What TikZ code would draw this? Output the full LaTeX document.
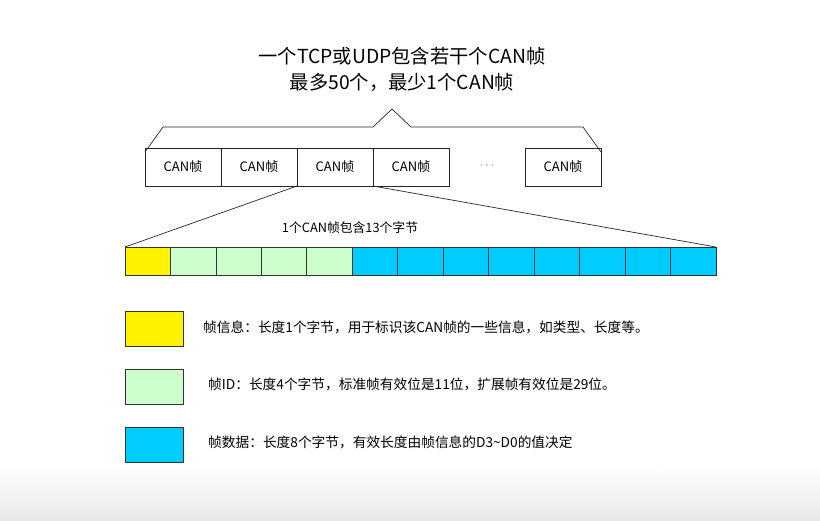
\documentclass[tikz,border=0pt]{standalone}
\usepackage{fontspec}
\setmainfont{Noto Sans CJK SC}
\begin{document}
\begin{tikzpicture}[x=1pt,y=-1pt,
  framebox/.style={draw=black!85,line width=0.8pt,minimum width=76pt,minimum height=38pt,anchor=north west,inner sep=0pt,outer sep=0pt,font=\fontsize{13}{15}\selectfont},
  cell/.style={draw=black!80,line width=0.7pt,minimum height=28pt,minimum width=45.46pt,anchor=north west,inner sep=0pt,outer sep=0pt},
  legbox/.style={draw=black!80,line width=0.7pt,minimum width=58pt,minimum height=35pt,anchor=north west,inner sep=0pt,outer sep=0pt},
  legtext/.style={anchor=west,inner sep=0pt,font=\fontsize{13.7}{15}\selectfont},
  thinline/.style={draw=black!85,line width=0.7pt}
]
\useasboundingbox (0,0) rectangle (820,520);
\shade[top color=white,bottom color=black!9] (0,462) rectangle (820,520);
\fill[white] (195,300) rectangle (660,470);
% title
\node[align=center,font=\fontsize{19.3}{26}\selectfont,inner sep=0pt] (title) at (402,69) {一个TCP或UDP包含若干个CAN帧\\最多50个，最少1个CAN帧};
% frame boxes
\node[framebox] (f1) at (145,148) {CAN帧};
\node[framebox] (f2) at (221,148) {CAN帧};
\node[framebox] (f3) at (297,148) {CAN帧};
\node[framebox] (f4) at (373,148) {CAN帧};
\node[inner sep=0pt,font=\fontsize{13}{15}\selectfont,text=black!60] (dots) at (487,166) {$\cdots$};
\node[framebox] (f5) at (525,148) {CAN帧};
% brace
\coordinate (bl) at (f1.north west);
\coordinate (br) at (f5.north east);
\draw[thinline] ([yshift=-4pt]bl) -- (163,127) -- (373,127) -- (392,109) -- (411,127) -- (583,127) -- ([yshift=-4pt]br);
% byte cells
\node[cell,fill=yellow] (c1) at (125,247) {};
\foreach \i in {2,...,13}{
  \pgfmathtruncatemacro{\p}{\i-1}
  \ifnum\i<6
    \node[cell,fill={rgb,255:red,204;green,255;blue,204}] (c\i) at (c\p.north east) {};
  \else
    \node[cell,fill={rgb,255:red,0;green,204;blue,255}] (c\i) at (c\p.north east) {};
  \fi
}
\draw[thinline] (f3.south west) -- (c1.north west);
\draw[thinline] (f3.south east) -- (c13.north east);
\node[inner sep=0pt,font=\fontsize{12.8}{14}\selectfont] (bytes) at (350,228) {1个CAN帧包含13个字节};
% legend
\node[legbox,fill=yellow] (l1) at (125,311) {};
\node[legbox,fill={rgb,255:red,204;green,255;blue,204}] (l2) at (125,369) {};
\node[legbox,fill={rgb,255:red,0;green,204;blue,255}] (l3) at (125,427) {};
\node[legtext] (t1) at (203,327) {帧信息：长度1个字节，用于标识该CAN帧的一些信息，如类型、长度等。};
\node[legtext] (t2) at (208,384) {帧ID：长度4个字节，标准帧有效位是11位，扩展帧有效位是29位。};
\node[legtext] (t3) at (208,442) {帧数据：长度8个字节，有效长度由帧信息的D3\textasciitilde D0的值决定};
\end{tikzpicture}
\end{document}
